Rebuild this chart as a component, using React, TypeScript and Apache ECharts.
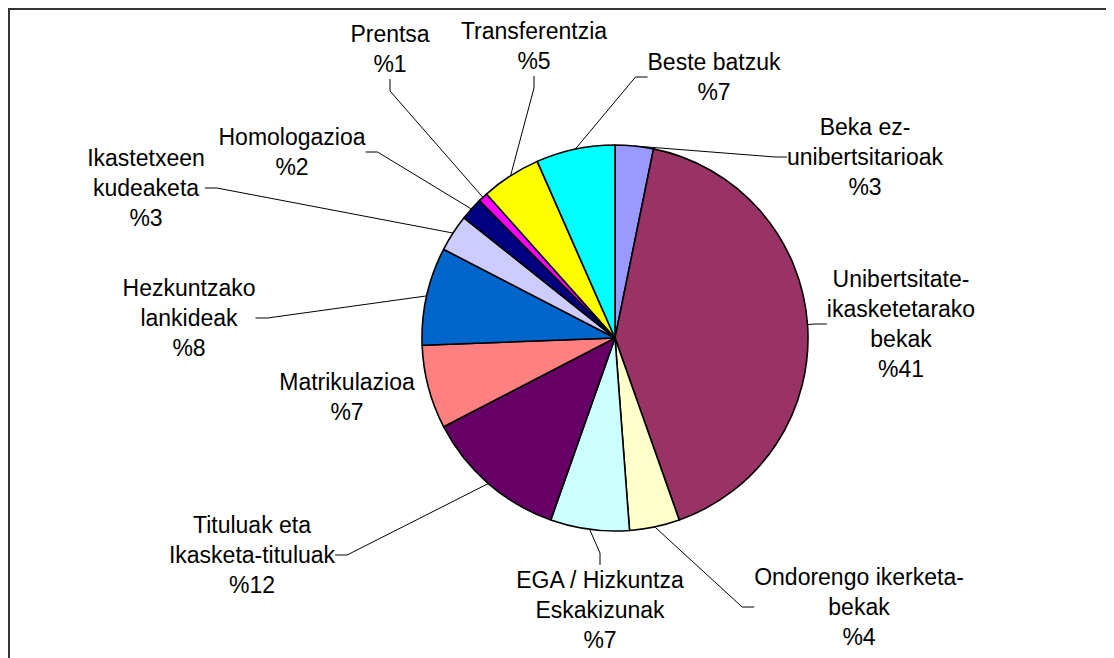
import React, { useEffect, useRef } from "react";
import * as echarts from "echarts";

// Categories (display names, with the reference's line breaks)
const categories: string[] = [
  "Beka ez-\nunibertsitarioak",
  "Unibertsitate-\nikasketetarako\nbekak",
  "Ondorengo ikerketa-\nbekak",
  "EGA / Hizkuntza\nEskakizunak",
  "Tituluak eta\nIkasketa-tituluak",
  "Matrikulazioa",
  "Hezkuntzako\nlankideak",
  "Ikastetxeen\nkudeaketa",
  "Homologazioa",
  "Prentsa",
  "Transferentzia",
  "Beste batzuk",
];

// Shares (percent)
const values: number[] = [3.2, 41.4, 4.2, 6.6, 12.0, 7.0, 8.2, 3.1, 1.9, 0.8, 5.0, 6.6];

const colors: string[] = [
  "#9999FF",
  "#993366",
  "#FFFFCC",
  "#CCFFFF",
  "#660066",
  "#FF8080",
  "#0066CC",
  "#CCCCFF",
  "#000080",
  "#FF00FF",
  "#FFFF00",
  "#00FFFF",
];

// Label block centres (layout, chart pixel space)
const labelPos: [number, number][] = [
  [857, 149],
  [893, 316],
  [851, 599],
  [592, 602],
  [244, 547],
  [339, 389],
  [181, 310],
  [138, 180],
  [284, 144],
  [382, 41],
  [526, 38],
  [706, 69],
];

const noLine: string[] = ["Matrikulazioa"];

export default function App() {
  const ref = useRef<HTMLDivElement | null>(null);

  useEffect(() => {
    document.documentElement.style.overflow = "hidden";
    document.body.style.overflow = "hidden";
    if (!ref.current) return;
    const chart = echarts.init(ref.current, null, { renderer: "svg" });
    const font = "'Liberation Sans', Arial, Helvetica, sans-serif";
    chart.setOption({
      animation: false,
      backgroundColor: "#ffffff",
      graphic: [
        {
          type: "rect",
          shape: { x: 1, y: 1, width: 3000, height: 3000 },
          style: { fill: "none", stroke: "#333333", lineWidth: 2 },
          silent: true,
        },
      ],
      series: [
        {
          type: "pie",
          center: [607, 330],
          radius: 193,
          startAngle: 90,
          clockwise: true,
          avoidLabelOverlap: false,
          itemStyle: { borderColor: "#000", borderWidth: 1.6 },
          label: {
            show: true,
            position: "outside",
            color: "#000",
            fontFamily: font,
            fontSize: 23,
            lineHeight: 30,
            align: "center",
            formatter: (p: any) => `${p.name}\n%${Math.round(p.percent)}`,
          },
          labelLine: {
            show: true,
            length: 10,
            length2: 12,
            minTurnAngle: 0,
            lineStyle: { color: "#000", width: 1 },
          },
          labelLayout: (p: any) => {
            const pos = labelPos[p.dataIndex];
            return { x: pos[0], y: pos[1], align: "center", verticalAlign: "middle" };
          },
          data: categories.map((name, i) => ({
            name,
            value: values[i],
            itemStyle: { color: colors[i] },
            labelLine: noLine.includes(name) ? { show: false } : undefined,
          })),
        },
      ],
    });
    return () => chart.dispose();
  }, []);

  return <div ref={ref} style={{ width: 1106, height: 650 }} />;
}
